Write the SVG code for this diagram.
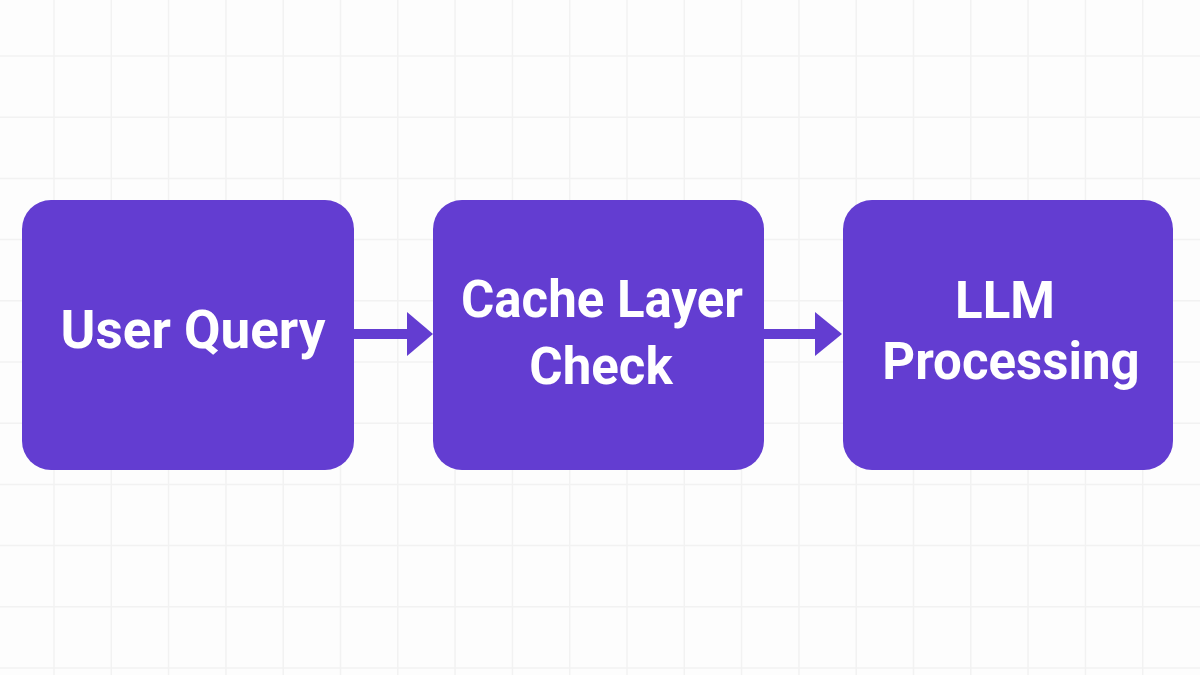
<svg xmlns="http://www.w3.org/2000/svg" width="1200" height="675" viewBox="0 0 1200 675">
  <defs>
    <style>
      .grid { stroke: #F2F2F2; stroke-width: 1.5; fill: none; }
      .node rect { fill: #633DD1; }
      .node text { fill: #FFFFFF; font-family: Roboto, "Liberation Sans", sans-serif; font-weight: bold; font-size: 51px; text-anchor: middle; }
      .conn line { stroke: #633DD1; stroke-width: 10; }
      .conn polygon { fill: #633DD1; }
    </style>
  </defs>
  <rect x="0" y="0" width="1200" height="675" fill="#FDFDFD"/>
  <g id="grid">
    <path class="grid" d="M54 0V675 M111.3 0V675 M168.6 0V675 M225.9 0V675 M283.2 0V675 M340.5 0V675 M397.8 0V675 M455.1 0V675 M512.4 0V675 M569.7 0V675 M627 0V675 M684.3 0V675 M741.6 0V675 M798.9 0V675 M856.2 0V675 M913.5 0V675 M970.8 0V675 M1028.1 0V675 M1085.4 0V675 M1142.7 0V675"/>
    <path class="grid" d="M0 56H1200 M0 117.2H1200 M0 178.4H1200 M0 239.6H1200 M0 300.8H1200 M0 362H1200 M0 423.2H1200 M0 484.4H1200 M0 545.6H1200 M0 606.8H1200 M0 668H1200"/>
  </g>
  <g id="connectors" class="conn">
    <line x1="352" y1="334" x2="409" y2="334"/>
    <polygon points="407,312 433,334 407,356"/>
    <line x1="763" y1="334" x2="817" y2="334"/>
    <polygon points="815,312 842,334 815,356"/>
  </g>
  <g id="node-user-query" class="node">
    <rect x="22" y="200" width="332" height="270" rx="29"/>
    <text x="193" y="348" style="font-size:53px">User Query</text>
  </g>
  <g id="node-cache-layer" class="node">
    <rect x="433" y="200" width="331" height="270" rx="29"/>
    <text x="602" y="317">Cache Layer</text>
    <text x="601" y="384">Check</text>
  </g>
  <g id="node-llm" class="node">
    <rect x="843" y="200" width="330" height="270" rx="29"/>
    <text x="1005" y="318">LLM</text>
    <text x="1011" y="379">Processing</text>
  </g>
</svg>
